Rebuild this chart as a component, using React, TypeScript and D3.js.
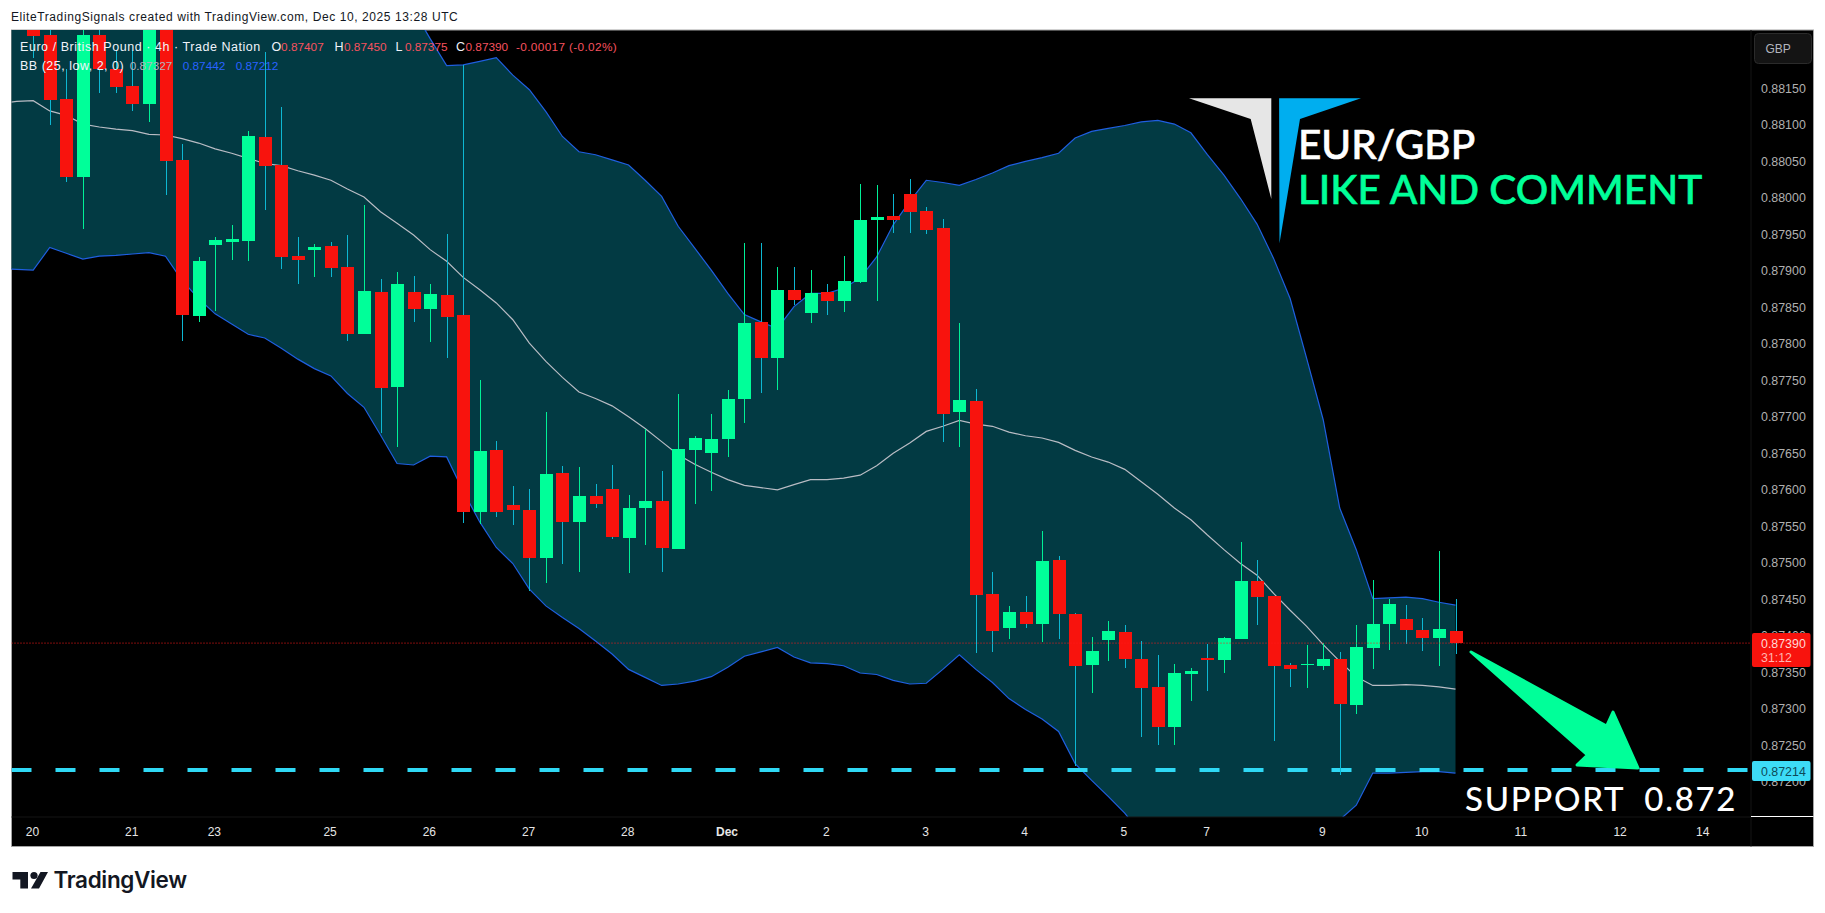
import * as d3 from "d3";
import { FC, useEffect, useRef } from "react";

const WIDTH = 1825;
const HEIGHT = 913;
const UI_FONT = "'Liberation Sans', sans-serif";
const BIG_FONT = "Lato, sans-serif";

// all prices in 1/100000 of a pound, the first two bars sit left of the first full candle
const opens = [
  88360, 88350, 88244, 88223, 88135, 88028, 88223, 88177, 88153, 88128, 88248, 88052,
  87838, 87935, 87939, 87941, 88083, 88045, 87920, 87929, 87934, 87905,
  87813, 87871, 87741, 87871, 87848, 87867, 87840, 87569, 87655, 87579,
  87573, 87506, 87623, 87556, 87592, 87601, 87534, 87575, 87585, 87519,
  87655, 87650, 87670, 87724, 87830, 87781, 87874, 87842, 87871, 87859,
  87885, 87969, 87975, 88005, 87982, 87959, 87706, 87722, 87457, 87411,
  87433, 87416, 87504, 87430, 87360, 87394, 87405, 87368, 87330, 87275,
  87348, 87370, 87367, 87396, 87475, 87455, 87360, 87360, 87359, 87368,
  87305, 87383, 87416, 87423, 87408, 87397, 87407,
];
const closes = [
  88310, 88300, 88221, 88134, 88028, 88223, 88177, 88152, 88128, 88253, 88050, 87840,
  87913, 87942, 87944, 88085, 88043, 87919, 87915, 87933, 87904, 87814,
  87872, 87740, 87882, 87848, 87868, 87837, 87569, 87653, 87570, 87573,
  87506, 87622, 87556, 87592, 87581, 87535, 87575, 87585, 87520, 87656,
  87671, 87670, 87724, 87829, 87781, 87874, 87860, 87870, 87859, 87886,
  87970, 87974, 87970, 87981, 87956, 87704, 87723, 87456, 87407, 87433,
  87416, 87503, 87430, 87359, 87379, 87407, 87368, 87329, 87275, 87349,
  87352, 87367, 87397, 87475, 87453, 87358, 87355, 87361, 87368, 87307,
  87385, 87416, 87444, 87408, 87397, 87409, 87390,
];
const highs = [
  88370, 88362, 88257, 88244, 88177, 88244, 88244, 88202, 88202, 88262, 88262, 88074,
  87919, 87946, 87963, 88092, 88200, 88124, 87946, 87937, 87939, 87949,
  87990, 87889, 87898, 87893, 87882, 87950, 88182, 87750, 87667, 87605,
  87601, 87707, 87633, 87631, 87608, 87634, 87593, 87683, 87626, 87731,
  87674, 87704, 87737, 87938, 87938, 87905, 87905, 87901, 87882, 87920,
  88019, 88018, 88005, 88026, 87987, 87971, 87829, 87738, 87487, 87441,
  87455, 87544, 87509, 87431, 87398, 87420, 87415, 87393, 87374, 87361,
  87356, 87389, 87398, 87529, 87504, 87455, 87363, 87387, 87390, 87378,
  87415, 87477, 87450, 87442, 87424, 87516, 87450,
];
const lows = [
  88300, 88290, 88192, 88100, 88021, 87957, 88143, 88143, 88119, 88104, 88004, 87804,
  87830, 87845, 87915, 87914, 87983, 87903, 87882, 87892, 87892, 87804,
  87813, 87678, 87659, 87830, 87802, 87781, 87554, 87553, 87563, 87552,
  87462, 87473, 87499, 87488, 87575, 87533, 87486, 87524, 87487, 87519,
  87581, 87598, 87645, 87692, 87733, 87737, 87853, 87828, 87839, 87843,
  87883, 87859, 87952, 87952, 87950, 87665, 87659, 87377, 87378, 87396,
  87411, 87392, 87396, 87221, 87322, 87366, 87356, 87261, 87250, 87250,
  87311, 87324, 87349, 87396, 87415, 87256, 87330, 87329, 87353, 87209,
  87293, 87355, 87381, 87389, 87379, 87359, 87375,
];

const bbUpper = [
  88440, 88440, 88445, 88445, 88440, 88440, 88435, 88430, 88425, 88420, 88415, 88410,
  88405, 88400, 88395, 88390, 88385, 88380, 88375, 88370, 88365, 88355,
  88340, 88317, 88289, 88257, 88218, 88181, 88182, 88187, 88192, 88168,
  88148, 88118, 88084, 88063, 88059, 88052, 88045, 88024, 88002, 87961,
  87931, 87901, 87869, 87840, 87830, 87821, 87851, 87869, 87869, 87876,
  87890, 87919, 87963, 87995, 88024, 88021, 88017, 88025, 88034, 88044,
  88050, 88055, 88061, 88082, 88091, 88095, 88099, 88104, 88106, 88101,
  88089, 88059, 88031, 87999, 87964, 87917, 87862, 87780, 87696, 87575,
  87518, 87451, 87452, 87453, 87451, 87446, 87442,
];
const bbBasis = [
  88129, 88132, 88133, 88119, 88113, 88101, 88097, 88094, 88092, 88087, 88086, 88081,
  88075, 88067, 88061, 88054, 88047, 88044, 88037, 88031, 88024, 88012,
  88001, 87981, 87965, 87949, 87929, 87913, 87891, 87874, 87856, 87833,
  87801, 87776, 87754, 87734, 87725, 87715, 87700, 87684, 87666, 87648,
  87635, 87624, 87614, 87606, 87603, 87600, 87607, 87614, 87614, 87616,
  87620, 87633, 87650, 87664, 87680, 87687, 87695, 87690, 87687, 87679,
  87674, 87671, 87665, 87654, 87645, 87638, 87628, 87611, 87594, 87575,
  87559, 87538, 87518, 87499, 87483, 87458, 87435, 87413, 87388, 87365,
  87344, 87332, 87332, 87333, 87332, 87330, 87327,
];
const bbLower = [
  87903, 87902, 87901, 87932, 87924, 87916, 87920, 87921, 87923, 87925, 87920, 87887,
  87862, 87841, 87827, 87813, 87808, 87794, 87779, 87766, 87756, 87732,
  87713, 87675, 87636, 87634, 87646, 87645, 87598, 87556, 87521, 87499,
  87464, 87441, 87425, 87410, 87393, 87375, 87354, 87343, 87332, 87334,
  87338, 87344, 87357, 87372, 87378, 87384, 87371, 87363, 87362, 87359,
  87349, 87347, 87339, 87334, 87335, 87354, 87374, 87354, 87336, 87314,
  87299, 87286, 87269, 87225, 87202, 87180, 87157, 87129, 87102, 87075,
  87056, 87043, 87034, 87029, 87029, 87038, 87052, 87075, 87107, 87148,
  87168, 87212, 87212, 87213, 87214, 87214, 87212,
];

const priceTicks = [
  87200, 87250, 87300, 87350, 87400, 87450, 87500, 87550, 87600, 87650, 87700,
  87750, 87800, 87850, 87900, 87950, 88000, 88050, 88100, 88150,
];
const timeLabels = ["20", "21", "23", "25", "26", "27", "28", "Dec", "2", "3", "4", "5", "7", "9", "10", "11", "12", "14"];
const timeBars = [0, 6, 11, 18, 24, 30, 36, 42, 48, 54, 60, 66, 71, 78, 84, 90, 96, 101];

const lastPrice = 87390;
const supportPrice = 87214;

const fmt = (p: number) => (p / 100000).toFixed(5);

const App: FC = () => {
  const svgRef = useRef<SVGSVGElement | null>(null);

  useEffect(() => {
    if (!svgRef.current) return;
    const svg = d3.select(svgRef.current);
    svg.selectAll("*").remove();

    const plot = { left: 11.5, top: 30, right: 1751, bottom: 817 };
    const frameRight = 1813.5;
    const frameBottom = 846.5;

    const xScale = d3.scaleLinear([0, 86], [33.2, 1455.5]);
    const yScale = d3.scaleLinear([87200, 88150], [781.8, 88.3]);
    const bars = d3.range(opens.length);
    const barX = (i: number) => xScale(i - 2);

    svg.append("rect").attr("width", WIDTH).attr("height", HEIGHT).attr("fill", "#fff");
    svg
      .append("rect")
      .attr("x", plot.left)
      .attr("y", plot.top)
      .attr("width", frameRight - plot.left)
      .attr("height", frameBottom - plot.top)
      .attr("fill", "#000")
      .attr("stroke", "#a3a3a3");

    svg
      .append("defs")
      .append("clipPath")
      .attr("id", "plot-clip")
      .append("rect")
      .attr("x", plot.left)
      .attr("y", plot.top)
      .attr("width", plot.right - plot.left)
      .attr("height", plot.bottom - plot.top);

    const chart = svg.append("g").attr("clip-path", "url(#plot-clip)");

    // bollinger bands
    const area = d3
      .area<number>()
      .x(barX)
      .y0((i) => yScale(bbLower[i]))
      .y1((i) => yScale(bbUpper[i]));
    chart.append("path").attr("d", area(bars)).attr("fill", "#023a43");

    const drawLine = (values: number[], color: string, width: number) => {
      const line = d3
        .line<number>()
        .x(barX)
        .y((i) => yScale(values[i]));
      chart
        .append("path")
        .attr("d", line(bars))
        .attr("fill", "none")
        .attr("stroke", color)
        .attr("stroke-width", width);
    };
    drawLine(bbUpper, "#1f5fe0", 1.2);
    drawLine(bbLower, "#1f5fe0", 1.2);
    drawLine(bbBasis, "#b9bcc4", 1.2);

    // support line goes under the candles
    chart
      .append("line")
      .attr("x1", plot.left)
      .attr("x2", 1748)
      .attr("y1", yScale(supportPrice) - 1.5)
      .attr("y2", yScale(supportPrice) - 1.5)
      .attr("stroke", "#2fd9f5")
      .attr("stroke-width", 4)
      .attr("stroke-dasharray", "20 24");

    // candles
    const isUp = (i: number) => closes[i] >= opens[i];
    const candles = chart
      .append("g")
      .attr("shape-rendering", "crispEdges")
      .selectAll("g")
      .data(bars)
      .enter()
      .append("g");
    candles
      .append("rect")
      .attr("x", (i) => Math.round(barX(i)) - 0.5)
      .attr("width", 1)
      .attr("y", (i) => yScale(highs[i]))
      .attr("height", (i) => yScale(lows[i]) - yScale(highs[i]))
      .attr("fill", (i) => (isUp(i) ? "#00f097" : "#0db7d2"));
    candles
      .append("rect")
      .attr("x", (i) => Math.round(barX(i)) - 6.5)
      .attr("width", 13)
      .attr("y", (i) => yScale(Math.max(opens[i], closes[i])))
      .attr("height", (i) => Math.max(1, Math.abs(yScale(opens[i]) - yScale(closes[i]))))
      .attr("fill", (i) => (isUp(i) ? "#00ff99" : "#f8130d"));

    // last price line
    chart
      .append("line")
      .attr("x1", plot.left)
      .attr("x2", plot.right)
      .attr("y1", yScale(lastPrice))
      .attr("y2", yScale(lastPrice))
      .attr("stroke", "#ff1a1a")
      .attr("stroke-dasharray", "1 2");

    // drawings on top
    const addText = (
      str: string,
      x: number,
      y: number,
      size: number,
      fill: string,
      font = UI_FONT,
      weight = 400
    ) =>
      svg
        .append("text")
        .text(str)
        .attr("x", x)
        .attr("y", y)
        .attr("font-size", size)
        .attr("fill", fill)
        .attr("font-family", font)
        .attr("font-weight", weight)
        .style("white-space", "pre");

    svg
      .append("polygon")
      .attr("points", "1189,98.3 1271.3,98.3 1271.3,199 1250.7,119")
      .attr("fill", "#e6e6e6");
    svg
      .append("polygon")
      .attr("points", "1279.1,98.3 1361,98.3 1300,119 1279.5,243.3")
      .attr("fill", "#00aeef");
    addText("EUR/GBP", 1298, 158.7, 40.5, "#fff", BIG_FONT, 500)
      .attr("stroke", "#fff")
      .attr("stroke-width", 0.6);
    addText("LIKE AND COMMENT", 1298, 204, 40.5, "#00ff99", BIG_FONT, 500)
      .attr("stroke", "#00ff99")
      .attr("stroke-width", 0.6);
    addText("SUPPORT  0.872", 1465, 810.7, 33, "#fff", BIG_FONT, 500).attr("letter-spacing", 1.7);

    svg
      .append("polygon")
      .attr("points", "1471,652 1606.6,726 1613,712 1638,768 1577,765 1587.4,755")
      .attr("fill", "#00ff99")
      .attr("stroke", "#00ff99")
      .attr("stroke-width", 3)
      .attr("stroke-linejoin", "round");

    // axes panels
    svg
      .append("line")
      .attr("x1", plot.right)
      .attr("x2", plot.right)
      .attr("y1", plot.top)
      .attr("y2", frameBottom)
      .attr("stroke", "#141414");
    svg
      .append("line")
      .attr("x1", plot.left)
      .attr("x2", plot.right)
      .attr("y1", plot.bottom)
      .attr("y2", plot.bottom)
      .attr("stroke", "#141414");
    svg
      .append("line")
      .attr("x1", plot.right)
      .attr("x2", frameRight)
      .attr("y1", plot.bottom - 0.5)
      .attr("y2", plot.bottom - 0.5)
      .attr("stroke", "#fff");

    const priceAxis = svg
      .append("g")
      .attr("transform", `translate(${plot.right}, 0)`)
      .call(
        d3
          .axisRight(yScale)
          .tickValues(priceTicks)
          .tickSize(0)
          .tickPadding(10)
          .tickFormat((d) => fmt(+d))
      );
    priceAxis.select(".domain").remove();
    priceAxis
      .selectAll("text")
      .attr("fill", "#b0b0b0")
      .attr("font-size", 12.4)
      .attr("font-family", UI_FONT);

    const timeAxis = svg
      .append("g")
      .attr("transform", `translate(-1.3, ${plot.bottom})`)
      .call(
        d3
          .axisBottom(xScale)
          .tickValues(timeBars)
          .tickSize(0)
          .tickPadding(10)
          .tickFormat((_, i) => timeLabels[i])
      );
    timeAxis.select(".domain").remove();
    timeAxis
      .selectAll("text")
      .attr("fill", "#e6e6e6")
      .attr("font-size", 12)
      .attr("font-family", UI_FONT)
      .attr("font-weight", (_, i) => (timeLabels[i] === "Dec" ? 700 : 400));

    // price tags
    svg
      .append("rect")
      .attr("x", 1752)
      .attr("y", 633)
      .attr("width", 58.5)
      .attr("height", 34)
      .attr("rx", 2)
      .attr("fill", "#f8130d");
    addText(fmt(lastPrice), 1761, yScale(lastPrice) + 4.5, 12.4, "#ffd9d6");
    addText("31:12", 1761, 662, 12.4, "#ffb5b0");
    svg
      .append("rect")
      .attr("x", 1752)
      .attr("y", 761)
      .attr("width", 58.5)
      .attr("height", 20)
      .attr("rx", 2)
      .attr("fill", "#3ddcf7");
    addText(fmt(supportPrice), 1761, yScale(supportPrice) + 4.5, 12.4, "#0d4a57");

    svg
      .append("rect")
      .attr("x", 1754.5)
      .attr("y", 33.5)
      .attr("width", 57)
      .attr("height", 30)
      .attr("rx", 4)
      .attr("fill", "#141414")
      .attr("stroke", "#2b2b2b");
    addText("GBP", 1765.5, 52.5, 12, "#b2b5be");

    // legend
    addText("Euro / British Pound · 4h · Trade Nation", 20, 51, 12.5, "#f0f3fa").attr("letter-spacing", 0.55);
    const ohlcLabels = ["O", "H", "L", "C"];
    const ohlcValues = [87407, 87450, 87375, 87390];
    const ohlcX = [271.6, 334.5, 395.4, 456];
    ohlcLabels.forEach((label, i) => {
      addText(label, ohlcX[i], 51, 12.5, "#f0f3fa");
      addText(fmt(ohlcValues[i]), ohlcX[i] + 9.5, 51, 11.8, "#f7525f");
    });
    addText("-0.00017 (-0.02%)", 516, 51, 11.8, "#f7525f").attr("letter-spacing", 0.35);
    addText("BB (25, low, 2, 0)", 20, 70, 12.5, "#f0f3fa").attr("letter-spacing", 0.5);
    addText(fmt(bbBasis[88]), 129.7, 70, 11.8, "#b2b5be");
    addText(fmt(bbUpper[88]), 182.7, 70, 11.8, "#2962ff");
    addText(fmt(bbLower[88]), 235.7, 70, 11.8, "#2962ff");

    // page header and footer
    addText("EliteTradingSignals created with TradingView.com, Dec 10, 2025 13:28 UTC", 11, 21, 12, "#131722").attr(
      "letter-spacing",
      0.59
    );
    svg
      .append("path")
      .attr("d", "M12.5,872 H28 V888.5 H20.3 V879.5 H12.5 Z M40.5,872 H48 L39,888.5 H31 Z")
      .attr("fill", "#131722");
    svg.append("circle").attr("cx", 34).attr("cy", 875.5).attr("r", 3.6).attr("fill", "#131722");
    addText("TradingView", 53.5, 888, 22.5, "#131722", "Inter, sans-serif", 600).attr("letter-spacing", -0.35);
  }, []);

  return (
    <svg
      ref={svgRef}
      width={WIDTH}
      height={HEIGHT}
      style={{ position: "absolute", left: 0, top: 0, display: "block" }}
    />
  );
};

export default App;
